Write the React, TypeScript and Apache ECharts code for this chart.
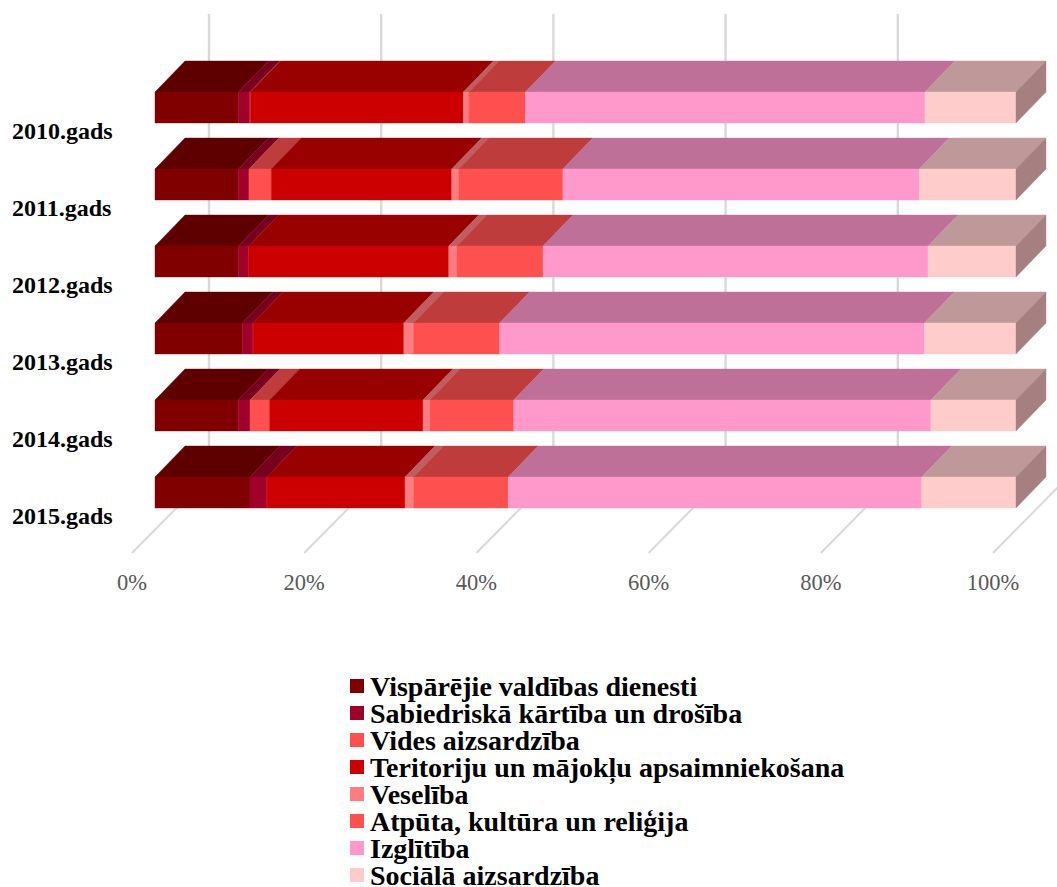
import React, { useEffect, useRef } from "react";
import * as echarts from "echarts";

const years = ["2010.gads", "2011.gads", "2012.gads", "2013.gads", "2014.gads", "2015.gads"];
const ticks = [0, 20, 40, 60, 80, 100];

const seriesNames = [
  "Vispārējie valdības dienesti",
  "Sabiedriskā kārtība un drošība",
  "Vides aizsardzība",
  "Teritoriju un mājokļu apsaimniekošana",
  "Veselība",
  "Atpūta, kultūra un reliģija",
  "Izglītība",
  "Sociālā aizsardzība",
];

const vispareji = [9.71, 9.71, 9.71, 10.16, 9.66, 11.03];
const sabiedriska = [1.32, 1.2, 1.21, 1.24, 1.37, 1.99];
const vides = [0.07, 2.6, 0, 0, 2.28, 0];
const teritoriju = [24.74, 20.95, 23.22, 17.5, 17.8, 16.02];
const veseliba = [0.66, 0.82, 0.95, 1.13, 0.82, 1.0];
const atputa = [6.55, 12.09, 10.01, 9.99, 9.71, 10.99];
const izglitiba = [46.43, 41.38, 44.74, 49.35, 48.43, 48.03];
const sociala = [10.58, 11.24, 10.22, 10.63, 9.88, 10.95];

const allValues = [vispareji, sabiedriska, vides, teritoriju, veseliba, atputa, izglitiba, sociala];
const frontColors = ["#800000", "#A0002A", "#FF5050", "#CC0000", "#FF7C80", "#FF5050", "#FF99CC", "#FFCCCC"];
const topColors = ["#5E0000", "#78001F", "#BF3C3C", "#990000", "#BF5D60", "#BF3C3C", "#BE7099", "#BF9999"];
const sideColor = "#A68080";

const FONT = "Liberation Serif";
const DX = 30;
const DY = 31;
const BAR_H = 31;

function boxes() {
  const cum = years.map(() => 0);
  return allValues.map((vals) =>
    vals.map((v, i) => {
      const start = cum[i];
      cum[i] += v;
      return [start, cum[i], i];
    })
  );
}

export default function App() {
  const ref = useRef<HTMLDivElement>(null);
  useEffect(() => {
    const chart = echarts.init(ref.current!, undefined, { renderer: "svg" });
    const stacks = boxes();
    const totals = years.map((_, i) => allValues.reduce((s, a) => s + a[i], 0));

    const gridSeries: any = {
      type: "custom",
      name: "grid",
      silent: true,
      clip: false,
      z: 1,
      data: ticks.map((t) => [t, 0]),
      encode: { x: 0, y: 1 },
      renderItem: (_p: any, api: any) => {
        const tick = api.value(0);
        const bottom = api.coord([tick, years.length - 1])[1] + 38.5;
        const x = api.coord([tick, 0])[0];
        const st = { stroke: "#D9D9D9", lineWidth: 2.4, fill: "none" };
        return {
          type: "group",
          children: [
            { type: "line", shape: { x1: x + 54, y1: 14, x2: x + 54, y2: bottom - 56 }, style: st },
            { type: "line", shape: { x1: x - 23, y1: bottom + 22, x2: x + 54, y2: bottom - 56 }, style: { ...st, lineWidth: 2 } },
          ],
        };
      },
    };

    const barSeries: any[] = seriesNames.map((name, idx) => ({
      type: "custom",
      name,
      silent: true,
      clip: false,
      z: 2,
      itemStyle: { color: frontColors[idx] },
      data: stacks[idx],
      encode: { x: [0, 1], y: 2 },
      renderItem: (_p: any, api: any) => {
        const cat = api.value(2);
        const a = api.coord([(api.value(0) / totals[cat]) * 100, cat]);
        const b = api.coord([(api.value(1) / totals[cat]) * 100, cat]);
        const y0 = a[1] - BAR_H / 2;
        const y1 = a[1] + BAR_H / 2;
        const edge = (c: string) => ({ fill: c, stroke: c, lineWidth: 0.4 });
        const children: any[] = [
          {
            type: "polygon",
            shape: { points: [[a[0], y0], [a[0] + DX, y0 - DY], [b[0] + DX, y0 - DY], [b[0], y0]] },
            style: edge(topColors[idx]),
          },
          { type: "rect", shape: { x: a[0], y: y0, width: b[0] - a[0], height: BAR_H }, style: edge(frontColors[idx]) },
        ];
        if (idx === seriesNames.length - 1) {
          children.push({
            type: "polygon",
            shape: { points: [[b[0], y0], [b[0] + DX, y0 - DY], [b[0] + DX, y1 - DY], [b[0], y1]] },
            style: edge(sideColor),
          });
        }
        return { type: "group", children };
      },
    }));

    chart.setOption({
      animation: false,
      backgroundColor: "#FFFFFF",
      grid: { left: 155, top: 69, width: 861, height: 462, containLabel: false },
      xAxis: {
        type: "value",
        min: 0,
        max: 100,
        interval: 20,
        axisLine: { show: false },
        axisTick: { show: false },
        splitLine: { show: false },
        axisLabel: {
          formatter: "{value}%",
          color: "#595959",
          fontFamily: FONT,
          fontSize: 22.5,
          margin: 40,
          align: "center",
          padding: [0, 46, 0, 0],
          showMinLabel: true,
          showMaxLabel: true,
          hideOverlap: false,
        },
      },
      yAxis: {
        type: "category",
        inverse: true,
        data: years,
        axisLine: { show: false },
        axisTick: { show: false },
        splitLine: { show: false },
        axisLabel: {
          color: "#000000",
          fontFamily: FONT,
          fontWeight: "bold",
          fontSize: 24,
          align: "left",
          verticalAlign: "top",
          margin: 143,
          padding: [11, 0, 0, 0],
        },
      },
      legend: {
        orient: "vertical",
        left: 350,
        top: 672,
        height: 240,
        padding: 0,
        itemWidth: 14,
        itemHeight: 14,
        itemGap: -1,
        selectedMode: false,
        data: seriesNames.map((name) => ({ name, icon: "rect" })),
        textStyle: { color: "#000000", fontFamily: FONT, fontWeight: "bold", fontSize: 28, lineHeight: 25, padding: [0, 0, 0, 1] },
      },
      series: [gridSeries, ...barSeries],
    });
    return () => chart.dispose();
  }, []);
  return <div ref={ref} style={{ position: "absolute", left: 0, top: 0, width: 1057, height: 887 }} />;
}
